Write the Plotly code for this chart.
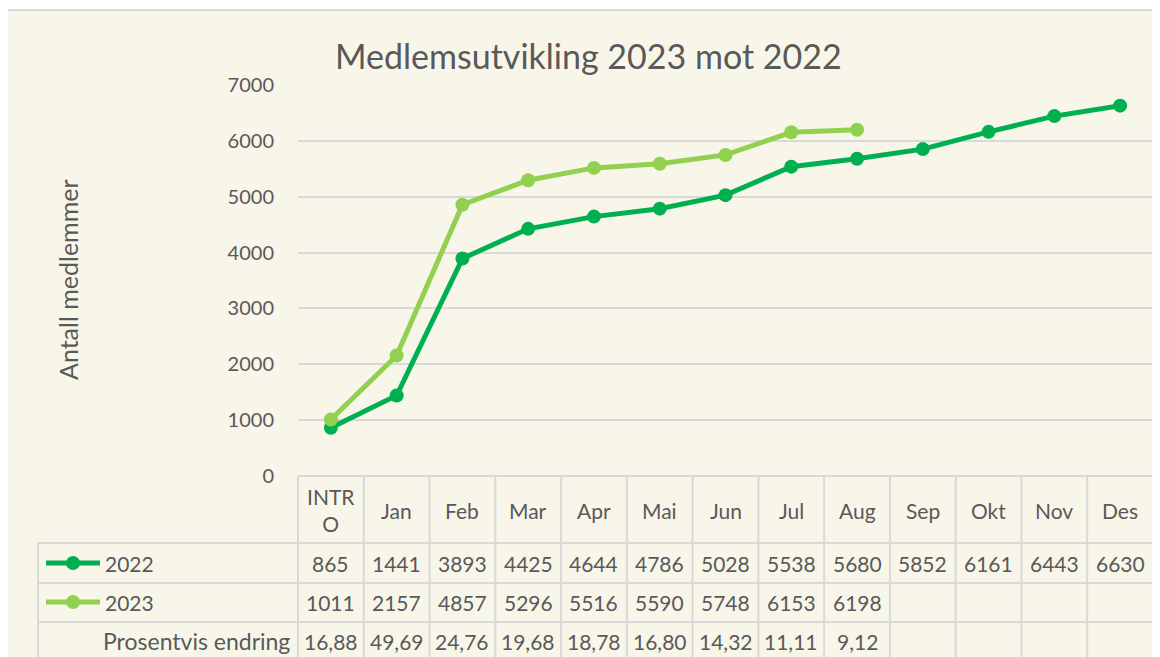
import plotly.graph_objects as go

# ---- data ----
months = ["INTRO", "Jan", "Feb", "Mar", "Apr", "Mai", "Jun", "Jul", "Aug", "Sep", "Okt", "Nov", "Des"]
header_labels = ["INTR<br>O", "Jan", "Feb", "Mar", "Apr", "Mai", "Jun", "Jul", "Aug", "Sep", "Okt", "Nov", "Des"]
members_2022 = [865, 1441, 3893, 4425, 4644, 4786, 5028, 5538, 5680, 5852, 6161, 6443, 6630]
members_2023 = [1011, 2157, 4857, 5296, 5516, 5590, 5748, 6153, 6198]
pct_change = [16.88, 49.69, 24.76, 19.68, 18.78, 16.80, 14.32, 11.11, 9.12]

OFF = 8  # page body margin
W, H = 1160 - OFF, 657 - OFF
# plot area in page pixels
L, R, T, B = 298, 1153, 85, 476

def px(xp):
    return (xp - L) / (R - L)

def py(yp):
    return (B - yp) / (B - T)

C22 = "#00B050"
C23 = "#92D050"
GRID = "#D9D9D9"
TXT = "#595959"
BG = "#F8F6E9"
FONT = "Lato"

xs = list(range(len(months)))

fig = go.Figure()
fig.add_trace(go.Scatter(x=xs, y=members_2022, mode="lines+markers", name="2022",
                         line=dict(color=C22, width=5), marker=dict(size=14, color=C22),
                         showlegend=False))
fig.add_trace(go.Scatter(x=xs[:len(members_2023)], y=members_2023, mode="lines+markers", name="2023",
                         line=dict(color=C23, width=5), marker=dict(size=14, color=C23),
                         showlegend=False))

shapes = []
# chart background and border
shapes.append(dict(type="rect", xref="paper", yref="paper", x0=px(7), x1=px(1175), y0=py(10), y1=py(680),
                   fillcolor=BG, line=dict(color=GRID, width=2), layer="below"))

# table geometry
n = len(months)
colw = (R - L) / n
row_y = [476, 543, 583, 622]
shapes.append(dict(type="line", xref="paper", yref="paper", x0=px(L), x1=px(R), y0=py(476), y1=py(476),
                   line=dict(color=GRID, width=2)))
for yy in row_y[1:]:
    shapes.append(dict(type="line", xref="paper", yref="paper", x0=px(38), x1=px(R), y0=py(yy), y1=py(yy),
                       line=dict(color=GRID, width=2)))
for i in range(n + 1):
    xx = L + i * colw
    shapes.append(dict(type="line", xref="paper", yref="paper", x0=px(xx), x1=px(xx), y0=py(476), y1=py(670),
                       line=dict(color=GRID, width=2)))
shapes.append(dict(type="line", xref="paper", yref="paper", x0=px(38), x1=px(38), y0=py(543), y1=py(670),
                   line=dict(color=GRID, width=2)))

# legend keys in table
for yy, col in [(563, C22), (602, C23)]:
    shapes.append(dict(type="line", xref="paper", yref="paper", x0=px(46), x1=px(100), y0=py(yy), y1=py(yy),
                       line=dict(color=col, width=5)))
    shapes.append(dict(type="circle", xref="paper", yref="paper", x0=px(66), x1=px(80), y0=py(yy - 7), y1=py(yy + 7),
                       fillcolor=col, line=dict(color=col, width=0)))

annotations = []
tf = dict(family=FONT, size=21, color=TXT)
for i, lab in enumerate(header_labels):
    cx = L + (i + 0.5) * colw
    annotations.append(dict(x=px(cx), y=py(510), xref="paper", yref="paper", text=lab, showarrow=False,
                            font=tf, xanchor="center", yanchor="middle"))
    annotations.append(dict(x=px(cx), y=py(563), xref="paper", yref="paper", text=str(members_2022[i]),
                            showarrow=False, font=tf, xanchor="center", yanchor="middle"))
    if i < len(members_2023):
        annotations.append(dict(x=px(cx), y=py(602), xref="paper", yref="paper", text=str(members_2023[i]),
                                showarrow=False, font=tf, xanchor="center", yanchor="middle"))
        annotations.append(dict(x=px(cx), y=py(641), xref="paper", yref="paper",
                                text=f"{pct_change[i]:.2f}".replace(".", ","),
                                showarrow=False, font=tf, xanchor="center", yanchor="middle"))

annotations.append(dict(x=px(103), y=py(563), xref="paper", yref="paper", text="2022", showarrow=False,
                        font=tf, xanchor="left", yanchor="middle"))
annotations.append(dict(x=px(103), y=py(602), xref="paper", yref="paper", text="2023", showarrow=False,
                        font=tf, xanchor="left", yanchor="middle"))
annotations.append(dict(x=px(292), y=py(641), xref="paper", yref="paper", text="Prosentvis endring",
                        showarrow=False, font=dict(family=FONT, size=23, color=TXT), xanchor="right", yanchor="middle"))
# y-axis title
annotations.append(dict(x=px(68), y=py(280), xref="paper", yref="paper", text="Antall medlemmer",
                        showarrow=False, textangle=-90, font=dict(family=FONT, size=25, color=TXT),
                        xanchor="center", yanchor="middle"))
# chart title
annotations.append(dict(x=px(588), y=py(55), xref="paper", yref="paper", text="Medlemsutvikling 2023 mot 2022",
                        showarrow=False, font=dict(family=FONT, size=34, color=TXT),
                        xanchor="center", yanchor="middle"))

fig.update_layout(
    width=W, height=H,
    margin=dict(l=L - OFF, r=W - (R - OFF), t=T - OFF, b=H - (B - OFF), pad=0),
    paper_bgcolor="white", plot_bgcolor=BG,
    font=dict(family=FONT, color=TXT),
    shapes=shapes, annotations=annotations,
    xaxis=dict(range=[-0.5, n - 0.5], showgrid=False, showticklabels=False, zeroline=False,
               showline=False, ticks=""),
    yaxis=dict(range=[0, 7000], dtick=1000, showgrid=True, gridcolor=GRID, gridwidth=2,
               zeroline=False, showline=False, ticks="", ticklabelstandoff=23,
               tickfont=dict(family=FONT, size=20, color=TXT)),
)

fig.write_html("out.html")
